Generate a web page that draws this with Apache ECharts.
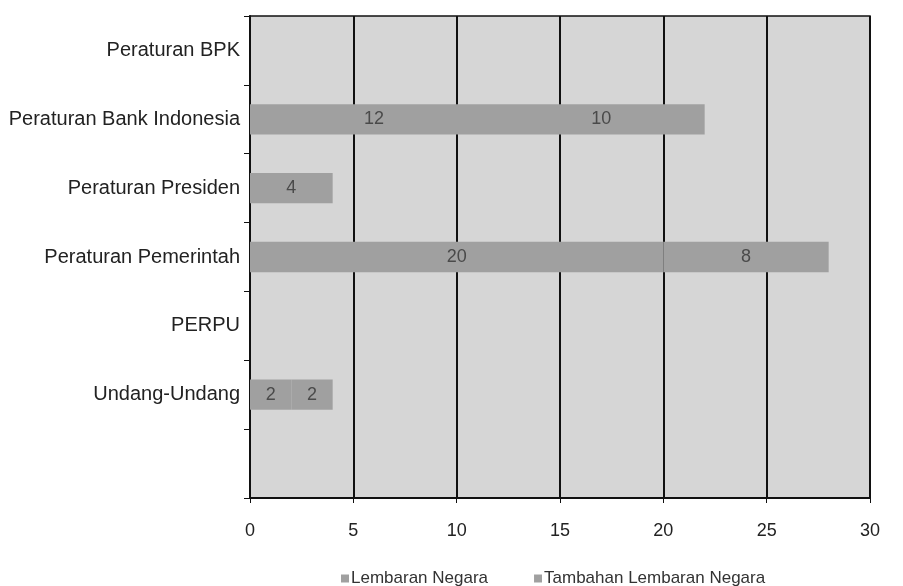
<!DOCTYPE html>
<html>
<head>
<meta charset="utf-8">
<script src="https://cdn.jsdelivr.net/npm/echarts@6/dist/echarts.min.js"></script>
<style>
    html, body { margin: 0; padding: 0; background: #fff; }
    #chart { width: 903px; height: 586px; }
</style>
</head>
<body>
<div id="chart"></div>
<script>
// kategori, dari bawah ke atas (slot paling bawah kosong)
var categories = ['', 'Undang-Undang', 'PERPU', 'Peraturan Pemerintah', 'Peraturan Presiden', 'Peraturan Bank Indonesia', 'Peraturan BPK'];
var lembaran_negara = [null, 2, null, 20, 4, 12, null];
var tambahan_lembaran_negara = [null, 2, null, 8, null, 10, null];
var series_names = ['Lembaran Negara', 'Tambahan Lembaran Negara'];

var chart = echarts.init(document.getElementById('chart'));

function bar_label() {
    return {
        show: true,
        position: 'inside',
        color: '#4a4a4a',
        fontSize: 18,
        fontFamily: 'Liberation Sans',
        formatter: function (p) {
            return p.value ? p.value : '';
        }
    };
}

chart.setOption({
    backgroundColor: '#fff',
    animation: false,
    textStyle: { fontFamily: 'Liberation Sans' },
    grid: {
        left: 250,
        right: 33,
        top: 16,
        bottom: 88,
        show: true,
        backgroundColor: '#d6d6d6',
        borderColor: '#111',
        borderWidth: 1.5
    },
    legend: {
        data: series_names,
        top: 565,
        left: 336,
        itemWidth: 8,
        itemHeight: 8,
        itemGap: 46,
        icon: 'rect',
        textStyle: { color: '#333', fontSize: 17, padding: [0, 0, 0, -3] }
    },
    xAxis: {
        type: 'value',
        min: 0,
        max: 30,
        interval: 5,
        axisLine: { show: true, lineStyle: { color: '#111', width: 2 } },
        axisTick: { show: true, length: 5, lineStyle: { color: '#111' } },
        axisLabel: { color: '#222', fontSize: 18, margin: 24 },
        splitLine: { show: true, lineStyle: { color: '#111', width: 2 } }
    },
    yAxis: {
        type: 'category',
        data: categories,
        axisLine: { show: true, lineStyle: { color: '#111', width: 2 } },
        axisTick: { show: true, length: 6, lineStyle: { color: '#111' } },
        axisLabel: { color: '#222', fontSize: 20, margin: 10 },
        splitLine: { show: false }
    },
    series: [
        {
            name: series_names[0],
            type: 'bar',
            stack: 'total',
            barWidth: '44%',
            data: lembaran_negara,
            itemStyle: { color: '#a0a0a0' },
            label: bar_label()
        },
        {
            name: series_names[1],
            type: 'bar',
            stack: 'total',
            barWidth: '44%',
            data: tambahan_lembaran_negara,
            itemStyle: { color: '#a0a0a0' },
            label: bar_label()
        }
    ]
});
</script>
</body>
</html>
